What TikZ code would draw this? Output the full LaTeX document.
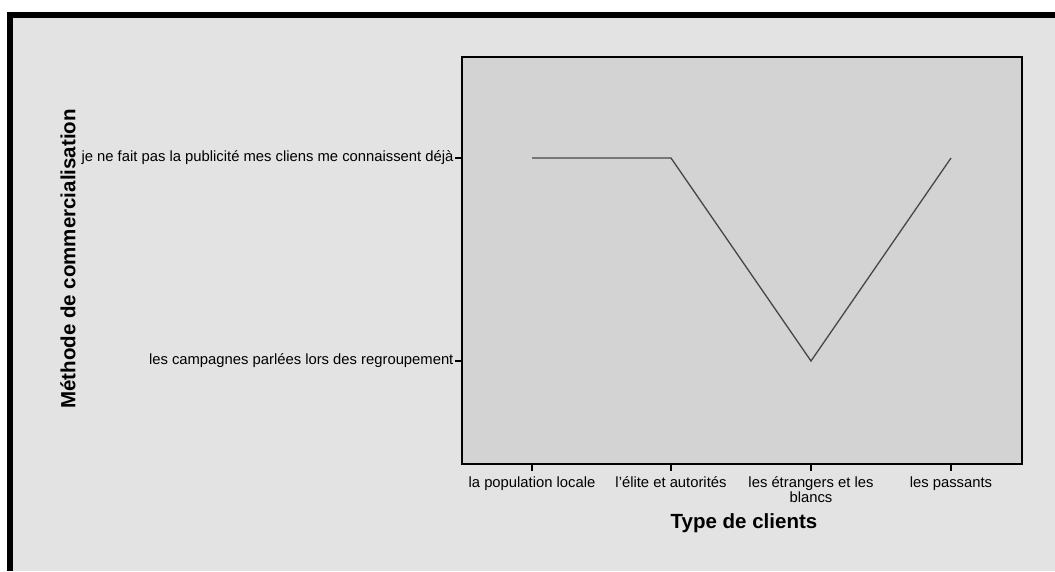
\documentclass[tikz,border=0pt]{standalone}
\usepackage{fontspec}
\setmainfont{Liberation Sans}
\definecolor{panelbg}{RGB}{227,227,227}
\definecolor{plotbg}{RGB}{211,211,211}
\definecolor{dataline}{RGB}{70,70,70}
\begin{document}
\begin{tikzpicture}[x=1pt,y=-1pt,
  ticklab/.style={font=\fontsize{14.8}{12.5}\selectfont, inner sep=0pt},
  axtitle/.style={font=\fontsize{20.5}{20}\selectfont\bfseries, inner sep=0pt},
  tickmark/.style={line width=1.2pt, black}]
\useasboundingbox (0,0) rectangle (1055,571);
% frame and panel
\fill[white] (0,0) rectangle (1055,571);
\fill[black] (7,12) rectangle (1055,571);
\fill[panelbg] (13,18) rectangle (1055,571);
% plot area
\draw[fill=plotbg, line width=2pt] (462,57) rectangle (1022,464);
% y axis ticks and labels
\coordinate (ya) at (462,158);
\coordinate (yb) at (462,361);
\draw[tickmark] (ya) -- ++(-7,0) node[ticklab, anchor=east, xshift=-1pt] (yla) {je ne fait pas la publicité mes cliens me connaissent déjà};
\draw[tickmark] (yb) -- ++(-7,0) node[ticklab, anchor=east, xshift=-1pt] (ylb) {les campagnes parlées lors des regroupement};
% x axis ticks and labels
\coordinate (xa) at (532,464);
\coordinate (xb) at (671,464);
\coordinate (xc) at (811,464);
\coordinate (xd) at (951,464);
\draw[tickmark] (xa) -- ++(0,7) node[ticklab, anchor=north, yshift=-5pt] (xla) {la population locale};
\draw[tickmark] (xb) -- ++(0,7) node[ticklab, anchor=north, yshift=-5pt] (xlb) {l\symbol{39}élite et autorités};
\draw[tickmark] (xc) -- ++(0,7) node[ticklab, anchor=north, yshift=-5pt, align=center] (xlc) {les étrangers et les\\blancs};
\draw[tickmark] (xd) -- ++(0,7) node[ticklab, anchor=north, yshift=-5pt] (xld) {les passants};
% axis titles
\node[axtitle] (xt) at (744,523) {Type de clients};
\node[axtitle, rotate=90] (yt) at (68,259) {Méthode de commercialisation};
% data line
\coordinate (p1) at (532,158);
\coordinate (p2) at (671,158);
\coordinate (p3) at (811,361);
\coordinate (p4) at (951,158);
\draw[dataline, line width=1.3pt] (p1) -- (p2) -- (p3) -- (p4);
\end{tikzpicture}
\end{document}
